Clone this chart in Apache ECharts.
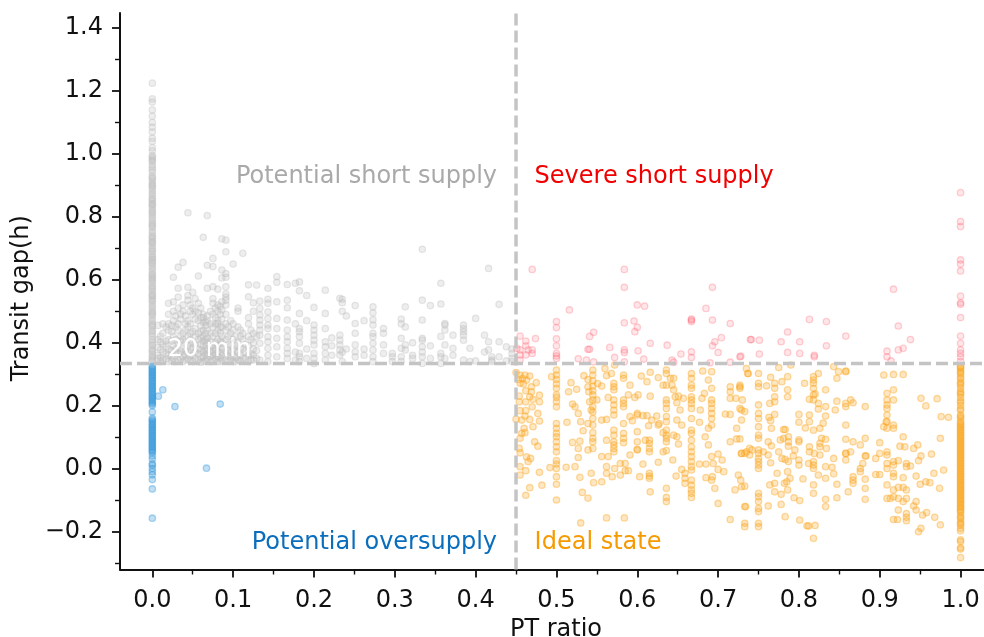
<!DOCTYPE html>
<html><head><meta charset="utf-8">
<style>html,body{margin:0;padding:0;background:#fff}#c{width:984px;height:637px}</style>
<script src="https://cdn.jsdelivr.net/npm/echarts@6/dist/echarts.min.js"></script>
</head><body><div id="c"></div>
<script>
const xMin=-0.04, xMax=1.029, yMin=-0.321, yMax=1.448;
const gapThreshold=0.334, ratioThreshold=0.45;
const xTicks=[0,0.1,0.2,0.3,0.4,0.5,0.6,0.7,0.8,0.9,1.0];
const xMinorTicks=[0.05,0.15,0.25,0.35,0.45,0.55,0.65,0.75,0.85,0.95];
const yTicks=[-0.2,0,0.2,0.4,0.6,0.8,1.0,1.2,1.4];
const yMinorTicks=[-0.3,-0.1,0.1,0.3,0.5,0.7,0.9,1.1,1.3];

// gray: stripes of [ratio, [gaps]]
const grayStripes=[
[0,[1.225,1.175,1.165,1.14,1.12,1.1,1.085,1.07,1.05,1.04,1.02,1.01,0.99,0.98,0.965,0.95,0.93,0.92,0.905,0.89,0.875,0.86,0.85,0.835,0.82,0.81,0.795,0.78,0.77,0.755,0.74,0.73,0.715,0.7,0.69,0.675,0.66,0.65,0.635,0.62,0.61,0.595,0.58,0.57,0.555,0.54,0.53,0.515,0.5,0.49,0.475,0.46,0.45,0.435,0.42,0.41,0.395,0.38,0.37,0.355,0.34,0.985,0.9,0.84,0.775,0.72,0.665,0.605,0.55,0.495,0.44,0.39,0.345,
 0.995,0.975,0.958,0.942,0.925,0.912,0.897,0.882,0.868,0.855,0.842,0.828,0.815,0.803,0.788,0.765,0.748,0.735,0.722,0.708,0.695,0.682,0.67,0.655,0.642,0.628,0.615,0.6,0.588,0.575,0.563,0.548,0.535,0.522,0.508,0.485,0.468,0.455,0.428,0.402,0.375,0.362,0.35]],
[0.007,[0.35,0.36,0.385,0.41,0.455]],[0.013,[0.345,0.37,0.395,0.43,0.46]],[0.02,[0.34,0.36,0.38,0.41,0.44,0.46,0.49,0.525]],
[0.026,[0.35,0.39,0.42,0.47,0.5,0.53,0.608]],[0.032,[0.345,0.365,0.395,0.44,0.46,0.51,0.545,0.573,0.64]],[0.038,[0.34,0.355,0.38,0.41,0.43,0.5,0.52,0.655]],
[0.044,[0.35,0.37,0.39,0.42,0.45,0.47,0.535,0.55,0.576,0.813]],[0.05,[0.34,0.36,0.385,0.4,0.435,0.49,0.51,0.56]],[0.057,[0.345,0.365,0.38,0.41,0.43,0.47,0.495,0.525,0.612]],
[0.063,[0.34,0.355,0.37,0.39,0.405,0.42,0.44,0.465,0.48,0.49,0.735]],[0.068,[0.35,0.365,0.38,0.4,0.415,0.44,0.47,0.485,0.573,0.646,0.804]],[0.075,[0.345,0.36,0.375,0.39,0.42,0.45,0.49,0.525,0.54,0.578,0.668,0.642]],
[0.081,[0.34,0.355,0.37,0.39,0.41,0.44,0.46,0.47,0.5,0.52,0.57]],[0.086,[0.345,0.36,0.38,0.4,0.42,0.45,0.475,0.505,0.53,0.606,0.631,0.73]],[0.091,[0.35,0.37,0.41,0.44,0.46,0.49,0.52,0.535,0.545,0.555,0.578,0.608,0.62,0.689,0.726]],
[0.1,[0.34,0.36,0.38,0.41,0.44,0.46,0.65]],[0.106,[0.345,0.37,0.4,0.45,0.5,0.51]],[0.112,[0.35,0.38,0.41,0.43,0.684]],[0.119,[0.34,0.36,0.39,0.42,0.46,0.48,0.546,0.584]],[0.125,[0.345,0.36,0.38,0.4,0.43,0.5,0.527]],
[0.129,[0.35,0.375,0.42,0.583]],[0.133,[0.345,0.398,0.424,0.44,0.456,0.472,0.488,0.509,0.532]],[0.143,[0.34,0.36,0.382,0.403,0.419,0.445,0.456,0.477,0.498,0.525,0.538,0.573]],[0.154,[0.355,0.387,0.414,0.445,0.477,0.53,0.592,0.61]],
[0.167,[0.35,0.366,0.382,0.403,0.419,0.44,0.472,0.511,0.535,0.585]],[0.177,[0.345,0.37,0.46,0.589]],[0.182,[0.34,0.355,0.366,0.398,0.419,0.435,0.445,0.493,0.565,0.593]],[0.191,[0.35,0.38,0.55,0.47]],
[0.2,[0.334,0.35,0.366,0.393,0.408,0.424,0.44,0.456,0.512]],[0.214,[0.345,0.366,0.387,0.403,0.445,0.493,0.567]],[0.222,[0.36,0.39,0.415]],[0.232,[0.361,0.377,0.393,0.408,0.424,0.541]],[0.235,[0.34,0.37,0.5,0.527,0.538]],[0.24,[0.38,0.485]],
[0.251,[0.355,0.371,0.393,0.43,0.461,0.518]],[0.262,[0.36,0.38,0.47]],[0.273,[0.34,0.355,0.377,0.398,0.419,0.43,0.456,0.473,0.495,0.514]],[0.286,[0.366,0.393,0.43,0.445]],
[0.297,[0.34,0.355,0.366]],[0.308,[0.34,0.355,0.382,0.414,0.46,0.475]],[0.313,[0.377,0.393,0.45,0.514]],[0.322,[0.35,0.36,0.4]],[0.334,[0.334,0.355,0.37,0.387,0.408,0.414,0.472,0.535,0.697]],
[0.344,[0.35,0.39,0.518]],[0.357,[0.334,0.355,0.366,0.42,0.523,0.589]],[0.362,[0.35,0.393,0.44,0.461,0.456]],[0.372,[0.36,0.382,0.424]],[0.385,[0.345,0.408,0.424,0.435,0.445,0.456]],
[0.393,[0.34,0.382]],[0.4,[0.342,0.477]],[0.411,[0.424,0.37]],[0.416,[0.403,0.377,0.636]],[0.42,[0.34,0.355,0.345]],[0.429,[0.403,0.355,0.522]],[0.438,[0.387,0.342]],[0.445,[0.366,0.35,0.38,0.34]],
[0.01,[0.34,0.352,0.378,0.402,0.42]],[0.017,[0.348,0.365,0.388,0.405,0.45]],[0.024,[0.342,0.358,0.375,0.405,0.435,0.455]],[0.029,[0.34,0.37,0.38,0.41,0.45,0.485]],[0.035,[0.35,0.372,0.405,0.42,0.475,0.49]],
[0.041,[0.345,0.362,0.375,0.4,0.44,0.46,0.485]],[0.047,[0.342,0.358,0.38,0.41,0.43,0.46,0.5,0.52]],[0.053,[0.35,0.37,0.395,0.42,0.445,0.475,0.5,0.54]],[0.06,[0.338,0.352,0.375,0.395,0.415,0.435,0.455,0.48,0.51]],
[0.066,[0.342,0.36,0.375,0.39,0.41,0.43,0.455,0.465]],[0.072,[0.34,0.355,0.37,0.385,0.405,0.43,0.46,0.5]],[0.078,[0.35,0.365,0.38,0.4,0.43,0.46,0.48,0.51]],[0.084,[0.34,0.352,0.368,0.385,0.405,0.43,0.45,0.49,0.515]],
[0.094,[0.342,0.358,0.375,0.395,0.42,0.45]],[0.097,[0.35,0.37,0.39,0.43,0.47]],[0.103,[0.34,0.352,0.375,0.39,0.42]],[0.109,[0.342,0.36,0.385,0.42,0.44]],[0.115,[0.35,0.37,0.395]],[0.122,[0.345,0.365,0.41,0.44]]
];
const bluePoints=[[0.0075,0.23],[0.013,0.25],[0.028,0.197],[0.084,0.205],[0.067,0.001]];
const blueColumn=[0.325,0.32,0.315,0.31,0.305,0.3,0.295,0.29,0.285,0.28,0.275,0.27,0.265,0.26,0.255,0.25,0.245,0.24,0.235,0.23,0.225,0.22,0.215,0.21,0.205,0.2,0.18,0.16,0.155,0.15,0.145,0.14,0.135,0.13,0.125,0.12,0.115,0.11,0.105,0.1,0.095,0.09,0.085,0.08,0.075,0.07,0.065,0.06,0.055,0.05,0.04,0.03,0.015,0.01,0,-0.01,-0.02,-0.035,-0.065,-0.158];
const pinkPoints=[
[0.47,0.633],[0.584,0.633],[0.584,0.576],[0.693,0.576],[0.516,0.504],[0.6,0.52],[0.609,0.516],[0.685,0.509],[0.667,0.472],[0.667,0.467],[0.667,0.475],[0.693,0.472],[0.715,0.461],[0.584,0.463],[0.596,0.469],[0.6,0.449],[0.597,0.435],[0.546,0.433],[0.541,0.42],[0.474,0.413],[0.455,0.421],[0.462,0.405],[0.616,0.398],[0.704,0.416],[0.696,0.403],[0.693,0.39],[0.7,0.369],[0.74,0.41],[0.637,0.392],[0.566,0.385],[0.539,0.379],[0.541,0.379],[0.584,0.377],[0.584,0.369],[0.601,0.374],[0.462,0.39],[0.451,0.382],[0.455,0.377],[0.465,0.377],[0.47,0.377],[0.47,0.366],[0.455,0.361],[0.462,0.361],[0.455,0.345],[0.572,0.353],[0.608,0.348],[0.527,0.349],[0.537,0.345],[0.546,0.339],[0.584,0.339],[0.643,0.345],[0.645,0.338],[0.654,0.364],[0.667,0.371],[0.667,0.353],[0.69,0.336],[0.715,0.338],[0.728,0.357],
[0.5,0.467],[0.5,0.448],[0.5,0.412],[0.5,0.39],[0.5,0.366],[0.5,0.358],[0.5,0.35],
[0.741,0.41],[0.751,0.408],[0.751,0.364],[0.727,0.355],[0.778,0.403],[0.786,0.434],[0.786,0.369],[0.801,0.403],[0.801,0.366],[0.813,0.474],[0.819,0.355],[0.819,0.36],[0.834,0.467],[0.834,0.39],[0.858,0.421],[0.909,0.373],[0.909,0.355],[0.914,0.342],[0.917,0.57],[0.923,0.453],[0.923,0.377],[0.929,0.382],[0.938,0.41],
[1,0.877],[1,0.785],[1,0.769],[1,0.663],[1,0.65],[1,0.628],[1,0.548],[1,0.527],[1,0.522],[1,0.48],[1,0.421],[1,0.398],[1,0.377],[1,0.366],[1,0.355],[1,0.34]
];
const orangeStripes=[
[0.5,[0.313,0.297,0.283,0.269,0.255,0.234,0.226,0.212,0.196,0.143,0.128,0.112,0.101,0.085,0.069,0.053,0.025,0.014,0,-0.026,-0.05,-0.1]],
[0.545,[0.313,0.297,0.279,0.262,0.247,0.234,0.218,0.196,0.18,0.159,0.138,0.114,0.096,0.085,0.064]],
[0.571,[0.271,0.26,0.25,0.218,0.202,0.186,0.17,0.122,0.106,0.085,0.075,0.064,0.053]],
[0.583,[0.297,0.287,0.218,0.207,0.196,0.143,0.112,0.096,0.082]],
[0.6,[0.175,0.17,0.117,0.085,0.059,0.061]],
[0.615,[0.09,0.08,0.064,0.053,-0.015,-0.024,-0.031]],
[0.636,[0.313,0.302,0.265,0.218,0.207,0.191,0.165,0.149,0.122,0.106,0.096,0.085,0.057,-0.063,-0.092,-0.105]],
[0.667,[0.302,0.287,0.265,0.255,0.228,0.218,0.207,0.191,0.159,0.122,0.112,0.09,0.069,0.053,0.038,0.022,0.006,-0.005,-0.037,-0.053,-0.068,-0.079,-0.092]],
[0.692,[0.308,0.255,0.218,0.207,0.191,0.175,0.159,0.138,-0.037]],
[0.75,[0.302,0.271,0.26,0.202,0.175,0.159,0.133,0.106,0.096,0.059,0.048,0.032,0.022,0.011,0,-0.079,-0.09,-0.105,-0.127,-0.137,-0.174,-0.185]],
[0.8,[0.172,0.147,0.091,0.085,0.027,0.011]],
[0.818,[0.292,0.281,0.271,0.255,0.234,0.218,0.122,0.022,0.011,0,-0.052,-0.079,-0.222]],
[0.833,[0.25,0.197,0.167,0.093,0.006,-0.031,-0.098,-0.121]],
[0.858,[0.308,0.207,0.197,0.138,0.093,0.048,0.027]],
[0.867,[0.209,0.085,-0.026,-0.037,-0.047]],
[0.882,[0.197,0.096,0.04,-0.034,-0.063,-0.098]],
[0.909,[0.239,0.218,0.202,0.191,0.17,0.149,0.128,0.053,0.043,0.016,0,-0.052,-0.095]],
[0.917,[0.299,0.25,0.218,0.138,0.128,0.022]],
[1,[0.325,0.318,0.31,0.3,0.29,0.285,0.275,0.265,0.255,0.245,0.235,0.225,0.215,0.2,0.185,0.17,0.16,0.15,0.14,0.13,0.12,0.11,0.1,0.09,0.08,0.07,0.06,0.05,0.04,0.03,0.02,0.01,0,-0.01,-0.02,-0.03,-0.04,-0.05,-0.06,-0.07,-0.08,-0.09,-0.1,-0.11,-0.12,-0.13,-0.14,-0.15,-0.16,-0.17,-0.18,-0.19,-0.198,-0.227,-0.232,-0.252,-0.256,-0.283,0.135,0.115,0.095,0.075,0.055,0.035,0.015,-0.005,-0.025,-0.045,-0.065,-0.085,-0.105,-0.125,0.322,0.305,0.27,0.24,0.21,0.19,0.165,0.145,0.125,0.105,0.085,0.065,0.045,0.025,0.005,-0.015,-0.035,-0.055,-0.075,-0.095,-0.115,-0.135,-0.155,-0.175]]
];
const orangePoints=[
[0.45,0.305],[0.455,0.297],[0.461,0.297],[0.467,0.294],[0.453,0.283],[0.458,0.286],[0.463,0.281],[0.455,0.271],[0.459,0.269],[0.475,0.273],[0.469,0.26],[0.462,0.247],[0.469,0.244],[0.454,0.23],[0.467,0.228],[0.471,0.22],[0.479,0.233],[0.454,0.212],[0.462,0.212],[0.479,0.212],[0.47,0.196],[0.455,0.184],[0.462,0.184],[0.477,0.175],[0.461,0.167],[0.45,0.157],[0.457,0.154],[0.467,0.156],[0.479,0.151],[0.471,0.133],[0.46,0.128],[0.457,0.112],[0.461,0.114],[0.455,0.096],[0.473,0.085],[0.477,0.071],[0.454,0.064],[0.455,0.05],[0.463,0.037],[0.468,0.032],[0.465,0.022],[0.455,0.006],[0.462,-0.007],[0.455,-0.021],[0.479,-0.012],[0.467,-0.061],[0.482,-0.053],[0.462,-0.085],[0.492,0.003],
[0.494,0.292],[0.515,0.244],[0.518,0.273],[0.525,0.252],[0.52,0.205],[0.523,0.196],[0.527,0.175],[0.513,0.147],[0.53,0.149],[0.539,0.143],[0.533,0.12],[0.52,0.083],[0.529,0.087],[0.527,0.064],[0.539,0.059],[0.527,0.035],[0.523,0.006],[0.512,0.004],[0.529,-0.028],[0.532,-0.076],[0.539,-0.094],[0.53,-0.173],
[0.534,0.295],[0.539,0.283],[0.551,0.27],[0.556,0.262],[0.539,0.26],[0.54,0.244],[0.541,0.212],[0.543,0.186],[0.55,0.218],[0.556,0.154],[0.562,0.156],[0.564,0.226],[0.56,0.318],[0.562,0.295],[0.568,0.302],[0.572,0.329],
[0.562,0.09],[0.556,0.038],[0.564,0.038],[0.562,0.006],[0.562,-0.015],[0.556,-0.042],[0.546,-0.045],[0.543,-0.015],[0.572,0],[0.569,-0.026],[0.579,0.016],[0.585,0.016],[0.579,-0.021],[0.589,-0.007],[0.585,-0.007],[0.591,0.043],[0.562,-0.157],[0.584,-0.157],
[0.591,0.265],[0.589,0.234],[0.597,0.226],[0.601,0.234],[0.591,0.165],[0.594,0.152],[0.605,0.294],[0.612,0.276],[0.616,0.306],[0.626,0.289],[0.616,0.23],
[0.607,0.168],[0.612,0.168],[0.618,0.154],[0.614,0.136],[0.624,0.167],[0.627,0.143],[0.626,0.138],[0.61,0.09],[0.607,0.014],[0.603,-0.026],[0.616,-0.074],[0.626,0.02],[0.632,0.053],[0.632,0.114],
[0.632,0.265],[0.641,0.287],[0.645,0.287],[0.643,0.265],[0.645,0.25],[0.647,0.228],[0.651,0.23],[0.649,0.209],[0.657,0.223],[0.653,0.186],[0.649,0.154],[0.655,0.138],[0.645,0.106],[0.649,0.101],[0.651,0.078],[0.644,0.027],[0.648,-0.024],[0.655,-0.003],[0.659,-0.015],[0.659,-0.031],[0.659,-0.047],
[0.677,0.014],[0.685,0.014],[0.681,0.31],[0.688,0.281],[0.678,0.186],[0.677,0.147],[0.683,0.239],[0.68,0.223],[0.688,0.128],[0.684,0.101],[0.688,0.075],[0.692,0.038],[0.7,0.046],[0.694,0.016],[0.685,-0.029],[0.693,-0.026],[0.696,-0.063],[0.7,-0.111],[0.715,-0.162],
[0.7,-0.003],[0.705,0.027],[0.707,-0.01],[0.715,0.26],[0.715,0.244],[0.715,0.223],[0.722,0.223],[0.709,0.173],[0.715,0.172],[0.727,0.265],[0.727,0.255],[0.727,0.191],[0.729,0.186],[0.729,0.154],[0.723,0.128],[0.715,0.085],[0.723,0.094],[0.727,0.094],[0.729,0.048],[0.725,-0.021],[0.729,-0.058],[0.733,-0.056],[0.721,-0.068],[0.728,-0.037],[0.734,-0.121],[0.733,-0.174],[0.733,-0.185],[0.735,0.318],[0.737,0.302],[0.735,0.053],[0.742,0.059],
[0.73,0.218],[0.727,0.26],[0.733,0.181],[0.739,0.064],[0.729,0.048],[0.733,0.048],[0.739,0.043],[0.733,-0.121],[0.737,0.302],
[0.76,0.263],[0.765,0.29],[0.77,0.271],[0.77,0.255],[0.77,0.228],[0.77,0.212],[0.764,0.207],[0.779,0.276],[0.786,0.292],[0.786,0.25],[0.786,0.228],[0.775,0.321],[0.79,0.329],[0.77,0.172],[0.763,0.163],[0.765,0.152],[0.766,0.128],[0.781,0.124],[0.783,0.124],
[0.777,0.091],[0.781,0.096],[0.787,0.101],[0.787,0.085],[0.787,0.071],[0.762,0.085],[0.766,0.072],[0.756,0.053],[0.762,0.043],[0.775,0.053],[0.779,0.032],[0.783,0.029],[0.787,0.022],[0.765,0.018],[0.795,0.059],[0.793,0.04],
[0.773,-0.015],[0.786,-0.01],[0.789,-0.031],[0.785,-0.042],[0.782,-0.047],[0.77,-0.047],[0.764,-0.052],[0.77,-0.074],[0.778,-0.082],[0.786,-0.068],[0.794,-0.093],[0.801,-0.102],[0.778,-0.114],[0.762,-0.119],[0.783,-0.153],[0.801,-0.164],[0.81,-0.182],[0.812,-0.183],[0.82,-0.181],
[0.807,0.271],[0.813,0.22],[0.82,0.237],[0.824,0.302],[0.824,0.207],[0.824,0.189],[0.808,0.129],[0.83,0.144],[0.826,0.128],[0.813,0.17],[0.813,0.149],[0.828,0.096],[0.826,0.08],[0.826,0.069],[0.834,0.064],[0.813,0.069],[0.813,0.053],[0.819,0.048],[0.826,0.043],[0.812,0.016],[0.805,-0.033],[0.824,-0.021],[0.843,0.032],[0.841,0.004],[0.843,-0.017],[0.847,-0.05],[0.847,-0.093],[0.861,-0.074],
[0.845,0.186],[0.847,0.214],[0.847,0.287],[0.849,0.308],[0.843,0.324],[0.858,0.31],[0.864,0.218],[0.864,0.053],[0.858,0.048],[0.876,0.075],[0.876,0],[0.876,-0.01],[0.879,0.016],[0.883,0.04],[0.895,0.032],[0.9,0.048],[0.9,0.082],[0.895,-0.019],[0.9,-0.019],[0.905,0.133],[0.905,0.297],[0.908,0.149],
[0.929,0.299],[0.929,0.101],[0.925,0.071],[0.931,0.069],[0.942,0.064],[0.947,0.075],[0.948,0.025],[0.951,0.04],[0.964,0.046],[0.945,-0.024],[0.95,-0.05],[0.957,-0.042],[0.962,-0.045],[0.967,-0.015],[0.979,-0.005],[0.974,-0.063],[0.975,0.096],[0.976,0.165],[0.985,0.163],[0.951,0.223],[0.957,0.199],[0.971,0.222],
[0.917,0.011],[0.923,0.025],[0.933,0.016],[0.933,0.006],[0.938,0.008],[0.917,-0.015],[0.917,-0.026],[0.929,-0.029],[0.923,-0.06],[0.929,-0.06],[0.933,-0.068],[0.917,-0.068],[0.913,-0.095],[0.917,-0.09],[0.923,-0.095],[0.929,-0.105],[0.933,-0.095],[0.945,-0.105],[0.942,-0.119],[0.923,-0.132],[0.945,-0.132],[0.933,-0.143],[0.933,-0.155],[0.933,-0.166],[0.917,-0.162],[0.922,-0.162],[0.953,-0.148],[0.958,-0.14],[0.968,-0.155],[0.975,-0.179],[0.951,-0.19],[0.948,-0.201]
];
const annotations=[
 {text:'Potential short supply',x:0.4265,y:0.927,color:'#a9a9a9',align:'right'},
 {text:'Severe short supply',x:0.473,y:0.927,color:'#f00000',align:'left'},
 {text:'Potential oversupply',x:0.4265,y:-0.235,color:'#0a6ebd',align:'right'},
 {text:'Ideal state',x:0.473,y:-0.235,color:'#f59a00',align:'left'},
 {text:'20 min',x:0.019,y:0.378,color:'#ffffff',align:'left'}
];
const fromStripes=s=>s.flatMap(([x,ys])=>ys.map(y=>[x,y]));
const dots=(name,data,r,g,b,fa,sa)=>({type:'scatter',name,data,symbolSize:6.4,large:false,
 itemStyle:{opacity:1,color:`rgba(${r},${g},${b},${fa})`,borderColor:`rgba(${r},${g},${b},${sa})`,borderWidth:1.3},
 emphasis:{disabled:true},silent:true,animation:false});
const font='"DejaVu Sans"';
const ink='#111111';
const axisCommon={axisLine:{show:true,onZero:false,lineStyle:{color:ink,width:2}},splitLine:{show:false},
 axisLabel:{fontFamily:font,fontSize:24,color:ink}};
const minorAxis={axisLine:{show:false,onZero:false},splitLine:{show:false},axisLabel:{show:false}};
const option={
 animation:false,backgroundColor:'#fff',
 grid:{left:120,right:0,top:13,bottom:67.5,containLabel:false,outerBoundsMode:'none'},
 xAxis:[
  Object.assign({},axisCommon,{type:'value',min:xMin,max:xMax,name:'PT ratio',nameLocation:'middle',nameGap:48,
   nameTextStyle:{fontFamily:font,fontSize:24,color:ink,padding:[0,0,0,8]},
   axisTick:{customValues:xTicks,length:8,lineStyle:{width:1.8,color:ink}},
   axisLabel:Object.assign({},axisCommon.axisLabel,{customValues:xTicks,margin:19,formatter:v=>v.toFixed(1)})}),
  Object.assign({},minorAxis,{type:'value',position:'bottom',min:xMin,max:xMax,axisTick:{customValues:xMinorTicks,length:5,lineStyle:{width:1.4,color:ink}}})
 ],
 yAxis:[
  Object.assign({},axisCommon,{type:'value',min:yMin,max:yMax,name:'Transit gap(h)',nameLocation:'middle',nameGap:83,
   nameTextStyle:{fontFamily:font,fontSize:24,color:ink,padding:[0,14,0,0]},
   axisTick:{customValues:yTicks,length:8,lineStyle:{width:1.8,color:ink}},
   axisLabel:Object.assign({},axisCommon.axisLabel,{customValues:yTicks,margin:17,padding:[4,0,0,0],formatter:v=>v.toFixed(1).replace('-','\u2212')})}),
  Object.assign({},minorAxis,{type:'value',position:'left',min:yMin,max:yMax,axisTick:{customValues:yMinorTicks,length:5,lineStyle:{width:1.4,color:ink}}})
 ],
 series:[
  dots('Potential short supply',fromStripes(grayStripes),190,190,190,0.26,0.36),
  dots('Potential oversupply',bluePoints.concat(blueColumn.map(y=>[0,y])),52,152,219,0.3,0.4),
  dots('Severe short supply',pinkPoints,255,90,105,0.15,0.28),
  dots('Ideal state',orangePoints.concat(fromStripes(orangeStripes)),250,165,30,0.27,0.4),
  {type:'line',data:[[ratioThreshold,yMin],[ratioThreshold,yMax]],symbol:'none',silent:true,z:3,
   lineStyle:{color:'#c4c4c4',width:3.5,type:[12,5]}},
  {type:'line',data:[[xMin,gapThreshold],[xMax,gapThreshold]],symbol:'none',silent:true,z:3,
   lineStyle:{color:'#c4c4c4',width:3.5,type:[12,5]}},
  {type:'scatter',symbolSize:0,silent:true,z:5,itemStyle:{opacity:1},
   data:annotations.map(a=>({value:[a.x,a.y],label:{show:true,opacity:1,position:a.align==='right'?'left':'right',distance:0,
     formatter:a.text,color:a.color,fontFamily:font,fontSize:24}}))}
 ]
};
echarts.init(document.getElementById('c'),null,{renderer:'canvas'}).setOption(option);
</script></body></html>
